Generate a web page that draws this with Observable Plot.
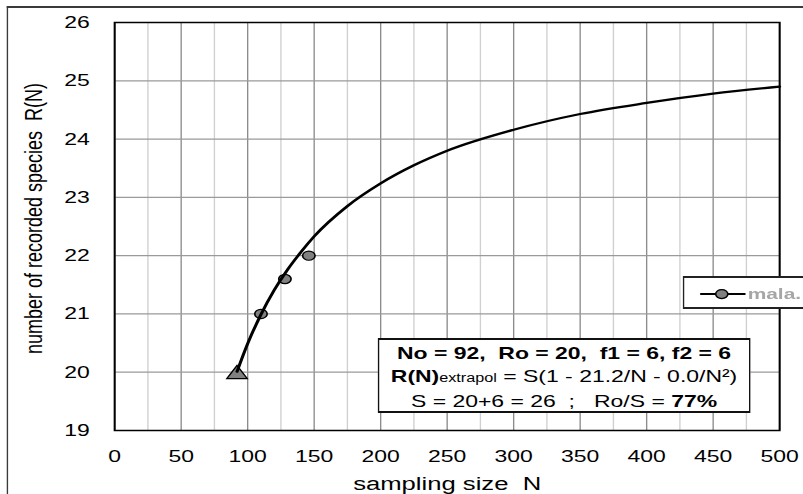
<!DOCTYPE html>
<html><head><meta charset="utf-8">
<script src="https://cdn.jsdelivr.net/npm/d3@7"></script>
<script src="https://cdn.jsdelivr.net/npm/@observablehq/plot@0.6"></script>
<style>
html,body{margin:0;padding:0;width:803px;height:494px;overflow:hidden;background:#fff;}
#wrap{position:absolute;left:0;top:0;width:595px;height:494px;transform-origin:0 0;transform:scaleX(1.34958);font-family:"Liberation Sans",Arial,sans-serif;}
#plot{position:absolute;left:0;top:0;}
#outer{position:absolute;left:5.2px;top:6px;width:800px;height:800px;border-left:1.5px solid #3a3a3a;border-top:2px solid #3a3a3a;}
#note{position:absolute;left:279.8px;top:338.3px;width:276.3px;height:74.4px;box-sizing:border-box;border:1.5px solid #111;border-width:2px 1.5px;background:#fff;text-align:center;white-space:pre;font-size:17px;line-height:23.3px;padding-top:1.5px;color:#000;}
#note .sub{font-size:12px;}
#legend{position:absolute;left:505.9px;top:275.7px;width:200px;height:33.6px;box-sizing:border-box;border:1.5px solid #222;border-width:2px 1.5px;background:#fff;}
#legend svg{position:absolute;left:0;top:0;overflow:visible;}
g[aria-label="ytitle"] text{letter-spacing:0.35px;}
</style>
</head><body>
<div id="wrap">
  <div id="plot"></div>
  <div id="outer"></div>
  <div id="note"></div>
  <div id="legend"></div>
</div>
<script>
// ---- data ----
const curveN = [92, 100, 110, 120, 130, 140, 150, 175, 200, 225, 250, 300, 350, 400, 450, 500];
const curveR = [20.01, 20.49, 20.99, 21.41, 21.76, 22.06, 22.33, 22.85, 23.24, 23.55, 23.80, 24.16, 24.43, 24.62, 24.78, 24.90];
const obsN = [110, 128, 146];
const obsR = [21.0, 21.6, 22.0];
const startN = [92];
const startR = [20];
const xTicks = [0, 50, 100, 150, 200, 250, 300, 350, 400, 450, 500];
const xMinor = [25, 75, 125, 175, 225, 275, 325, 375, 425, 475];
const yTicks = [19, 20, 21, 22, 23, 24, 25, 26];
const xTitle = "sampling size  N";
const yTitle = "number of recorded species  R(N)";
const seriesName = "mala.";
const noteLine1 = "No = 92,  Ro = 20,  f1 = 6, f2 = 6";
const noteLine2a = "R(N)";
const noteLine2b = "extrapol";
const noteLine2c = " = S(1 - 21.2/N - 0.0/N²)";
const noteLine3a = "S = 20+6 = 26  ;   Ro/S = ";
const noteLine3b = "77%";

const curve = curveN.map((n, i) => ({N: n, R: curveR[i]}));
const obs = obsN.map((n, i) => ({N: n, R: obsR[i]}));
const start = startN.map((n, i) => ({N: n, R: startR[i]}));

const chart = Plot.plot({
  width: 595, height: 494,
  marginLeft: 84.47, marginRight: 17.8, marginTop: 22, marginBottom: 64,
  style: {fontFamily: "'Liberation Sans', Arial, sans-serif", fontSize: "17px", background: "white", color: "black"},
  x: {domain: [0, 500]},
  y: {domain: [19, 26]},
  marks: [
    Plot.ruleX(xMinor, {stroke: "#d0d0d0", strokeWidth: 1}),
    Plot.ruleX(xTicks, {stroke: "#8c8c8c", strokeWidth: 1}),
    Plot.ruleY(yTicks, {stroke: "#9a9a9a", strokeWidth: 1.2}),
    Plot.frame({stroke: "black", strokeWidth: 1.5}),
    Plot.axisX({ticks: xTicks, tickSize: 0, tickPadding: 19, tickFormat: d => String(d), label: null, fontSize: 17}),
    Plot.axisY({ticks: yTicks, tickSize: 0, tickPadding: 18.5, tickFormat: d => String(d), label: null, fontSize: 17}),
    Plot.text([xTitle], {text: d => d, frameAnchor: "bottom", lineAnchor: "bottom", dy: 59, fontSize: 19}),
    Plot.text([yTitle], {text: d => d, frameAnchor: "left", textAnchor: "middle", rotate: -90, lineAnchor: "bottom", dx: -53.5, dy: -8, fontSize: 18, ariaLabel: "ytitle"}),
    Plot.dot(obs, {x: "N", y: "R", r: 4.6, fill: "#808080", stroke: "black", strokeWidth: 1.2}),
    Plot.dot(start, {x: "N", y: "R", symbol: "triangle", r: 5.6, dy: 2, fill: "#808080", stroke: "black", strokeWidth: 1.2}),
    Plot.line(curve, {x: "N", y: "R", curve: "monotone-x", stroke: "black", strokeWidth: 2.3})
  ]
});
document.getElementById("plot").appendChild(chart);

// annotation box
const note = document.getElementById("note");
const l1 = document.createElement("div"); l1.style.fontWeight = "bold"; l1.textContent = noteLine1; note.appendChild(l1);
const l2 = document.createElement("div");
const b2 = document.createElement("b"); b2.textContent = noteLine2a; l2.appendChild(b2);
const s2 = document.createElement("span"); s2.className = "sub"; s2.textContent = noteLine2b; l2.appendChild(s2);
l2.appendChild(document.createTextNode(noteLine2c)); note.appendChild(l2);
const l3 = document.createElement("div");
l3.appendChild(document.createTextNode(noteLine3a));
const b3 = document.createElement("b"); b3.textContent = noteLine3b; l3.appendChild(b3); note.appendChild(l3);

// legend
const lg = d3.select("#legend").append("svg").attr("width", 190).attr("height", 30);
lg.append("line").attr("x1", 11.8).attr("x2", 45.4).attr("y1", 16.1).attr("y2", 16.1).attr("stroke", "#000").attr("stroke-width", 2);
lg.append("circle").attr("cx", 27.8).attr("cy", 16.1).attr("r", 4.5).attr("fill", "#808080").attr("stroke", "#000").attr("stroke-width", 1.2);
lg.append("text").attr("x", 47).attr("y", 21.1).attr("font-size", 15.5).attr("font-weight", "bold").attr("fill", "#a6a6a6")
  .attr("font-family", "'Liberation Sans', Arial, sans-serif").text(seriesName);
</script>
</body></html>
